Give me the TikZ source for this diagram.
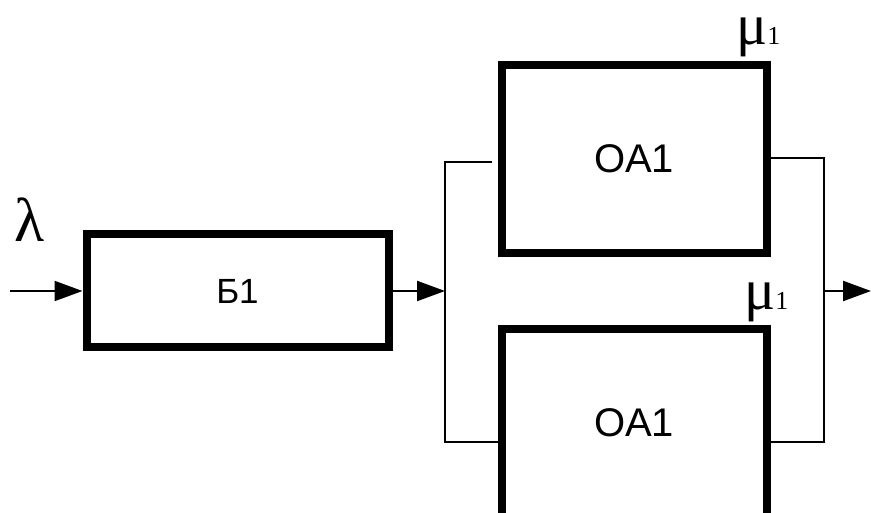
\documentclass[tikz,border=0pt]{standalone}
\usepackage{fontspec}
\setmainfont{Liberation Sans}
\newfontfamily\serifgr{Liberation Serif}
\usetikzlibrary{arrows.meta,positioning}

\begin{document}
\begin{tikzpicture}[x=1pt,y=-1pt,
  blok/.style={draw, line width=8pt, inner sep=0pt},
  wire/.style={line width=2.2pt},
  arr/.style={wire, -{Triangle[length=28pt,width=20pt]}},
  greek/.style={inner sep=0pt}]
\useasboundingbox (0,0) rectangle (871,513);
\clip (0,0) rectangle (871,513);
\node[blok, minimum width=302pt, minimum height=113pt, font=\fontsize{35}{35}\selectfont] (b1) at (237.5,291) {Б1};
\node[blok, minimum width=265pt, minimum height=188pt, font=\fontsize{40}{40}\selectfont] (oa1) at (634.5,159) {ОА1};
\node[blok, minimum width=265pt, minimum height=188pt, font=\fontsize{40}{40}\selectfont] (oa2) at (634.5,423) {ОА1};
\coordinate (in) at (10,291);
\coordinate (bus) at (445,291);
\coordinate (busup) at (445,162);
\coordinate (busdn) at (445,442);
\coordinate (outup) at (824,158);
\coordinate (outdn) at (824,442);
\coordinate (outmid) at (824,291);
\coordinate (out) at (871,291);
\draw[arr] (in) -- (b1.west);
\draw[arr] (b1.east) -- (bus);
\draw[wire] (492,162) -- (busup) -- (busdn) -- (oa2.west |- busdn);
\draw[wire] (oa1.east |- outup) -- (outup) -- (outdn) -- (oa2.east |- outdn);
\draw[arr] (outmid) -- (out);
\node[greek, anchor=base west] (lam) at (14,242) {\serifgr\fontsize{62}{62}\selectfont λ};
\node[greek, anchor=base west] (mu1) at (736,45) {\serifgr\fontsize{58}{58}\selectfont μ\fontsize{26}{26}\selectfont 1};
\node[greek, anchor=base west] (mu2) at (744,310) {\serifgr\fontsize{58}{58}\selectfont μ\fontsize{26}{26}\selectfont 1};
\end{tikzpicture}
\end{document}
